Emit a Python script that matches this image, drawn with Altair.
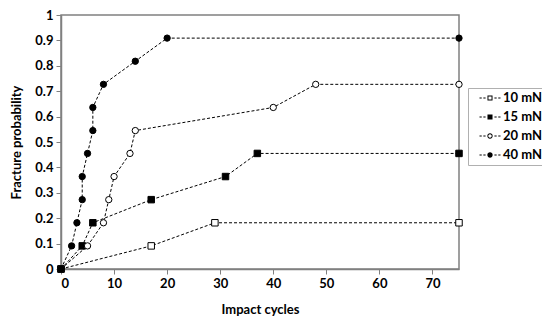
import altair as alt
import pandas as pd

loads = ["10 mN", "15 mN", "20 mN", "40 mN"]

cycles_10 = [0, 17, 29, 75]
prob_10 = [0, 0.091, 0.182, 0.182]

cycles_15 = [0, 4, 6, 17, 31, 37, 75]
prob_15 = [0, 0.091, 0.182, 0.273, 0.364, 0.455, 0.455]

cycles_20 = [0, 5, 8, 9, 10, 13, 14, 40, 48, 75]
prob_20 = [0, 0.091, 0.182, 0.273, 0.364, 0.455, 0.545, 0.636, 0.727, 0.727]

cycles_40 = [0, 2, 3, 4, 4, 5, 6, 6, 8, 14, 20, 75]
prob_40 = [0, 0.091, 0.182, 0.273, 0.364, 0.455, 0.545, 0.636, 0.727, 0.818, 0.909, 0.909]

x_ticks = [0, 10, 20, 30, 40, 50, 60, 70]
y_ticks = [0, 0.1, 0.2, 0.3, 0.4, 0.5, 0.6, 0.7, 0.8, 0.9, 1.0]

rows = []
for name, xs, ys in zip(loads, [cycles_10, cycles_15, cycles_20, cycles_40],
                        [prob_10, prob_15, prob_20, prob_40]):
    for i, (a, b) in enumerate(zip(xs, ys)):
        rows.append({"Load": name, "cycles": a, "prob": b, "idx": i})
df = pd.DataFrame(rows)

FONT = "Lato"
fills = ["white", "black", "white", "black"]


# legend symbol glyphs (unit paths): dashed line with a marker in the middle
def rect(x0, x1, h=0.075):
    return f"M{x0},{-h}H{x1}V{h}H{x0}Z"


dash = rect(-1.5, -1.18) + rect(-0.95, -0.63) + rect(0.63, 0.95) + rect(1.18, 1.5)
sq_solid = "M-0.36,-0.36H0.36V0.36H-0.36Z"
sq_open = sq_solid + "M-0.22,-0.22V0.22H0.22V-0.22Z"
ci_solid = "M-0.38,0A0.38,0.38 0 1,0 0.38,0A0.38,0.38 0 1,0 -0.38,0Z"
ci_open = ci_solid + "M-0.24,0A0.24,0.24 0 1,1 0.24,0A0.24,0.24 0 1,1 -0.24,0Z"
legend_shapes = [dash + sq_open, dash + sq_solid, dash + ci_open, dash + ci_solid]

axis_common = dict(grid=False, labelFontWeight="bold", titleFontWeight="bold",
                   labelFontSize=13, titleFontSize=13, labelFont=FONT,
                   titleFont=FONT, labelColor="black", titleColor="black",
                   domainColor="#808080", domainWidth=1.5,
                   tickColor="#808080", tickSize=5, labelPadding=3)

x_enc = alt.X("cycles:Q", scale=alt.Scale(domain=[0, 75], nice=False),
              axis=alt.Axis(values=x_ticks, title="Impact cycles", titlePadding=13,
                            **axis_common))
y_enc = alt.Y("prob:Q", scale=alt.Scale(domain=[0, 1], nice=False),
              axis=alt.Axis(values=y_ticks, title="Fracture probability",
                            labelExpr="format(datum.value, '.1~f')",
                            titlePadding=11, **axis_common))

base = alt.Chart(df)

lines = base.mark_line(color="black", strokeWidth=1, strokeDash=[3, 2]).encode(
    x=x_enc, y=y_enc, detail="Load:N", order="idx:Q")

fill_enc = alt.Fill("Load:N", scale=alt.Scale(domain=loads, range=fills), legend=None)

squares = base.transform_filter(
    alt.FieldOneOfPredicate(field="Load", oneOf=loads[:2])
).mark_square(size=42, stroke="black", strokeWidth=1, opacity=1).encode(
    x=x_enc, y=y_enc, fill=fill_enc)

circles = base.transform_filter(
    alt.FieldOneOfPredicate(field="Load", oneOf=loads[2:])
).mark_circle(size=40, stroke="black", strokeWidth=1, opacity=1).encode(
    x=x_enc, y=y_enc, fill=fill_enc)

leg = alt.Legend(title=None, orient="none", legendX=407, legendY=73,
                 labelFont=FONT, labelFontSize=13, labelFontWeight="bold",
                 labelColor="black", symbolSize=196, symbolFillColor="black",
                 symbolStrokeWidth=0, symbolOffset=12, rowPadding=5,
                 strokeColor="#b0b0b0", padding=3, labelOffset=6)

legend_layer = base.transform_calculate(Series="datum.Load").transform_filter(
    "false").mark_point(filled=True, color="black", opacity=1).encode(
    x=x_enc, y=y_enc,
    shape=alt.Shape("Series:N", scale=alt.Scale(domain=loads, range=legend_shapes),
                    legend=leg),
)

chart = alt.layer(lines, squares, circles, legend_layer).resolve_scale(
    fill="independent", shape="independent"
).properties(
    width=398, height=254,
    autosize=alt.AutoSizeParams(type="none"),
    padding={"left": 53, "top": 7, "right": 83, "bottom": 47},
    background="white",
).configure_view(stroke="#808080", strokeWidth=1.5)

chart.save("out.html", embed_options={"renderer": "svg", "actions": False})
